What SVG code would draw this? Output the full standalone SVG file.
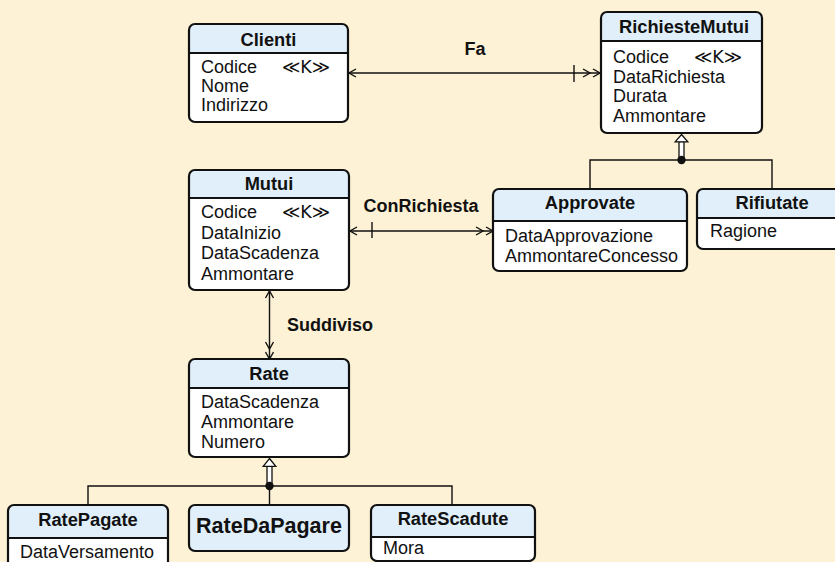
<svg xmlns="http://www.w3.org/2000/svg" width="835" height="562" viewBox="0 0 835 562">
  <style>
    text { font-family: "Liberation Sans", "DejaVu Sans", Arial, sans-serif; fill: #111; }
    .t { font-size: 18.3px; font-weight: bold; text-anchor: middle; }
    .big { font-size: 21.5px; font-weight: bold; text-anchor: middle; }
    .a { font-size: 18px; }
    .k { font-size: 17.5px; font-family: "DejaVu Sans", "Liberation Sans", sans-serif; }
    .lbl { font-size: 18px; font-weight: bold; }
    .body { fill: #ffffff; stroke: none; }
    .hdr { fill: #e0effa; stroke: none; }
    .edge { fill: none; stroke: #111; stroke-width: 2.2; }
    .div { stroke: #111; stroke-width: 2; }
    .ln { fill: none; stroke: #111; stroke-width: 1.4; }
    .dot { fill: #111; }
    .tri { fill: #fff; stroke: #111; stroke-width: 1.3; }
  </style>
  <defs>
    <marker id="one" markerUnits="userSpaceOnUse" markerWidth="12" markerHeight="12" refX="10" refY="6" orient="auto-start-reverse">
      <path d="M3,2 L10,6 L3,10" fill="none" stroke="#111" stroke-width="1.4"/>
    </marker>
    <marker id="many" markerUnits="userSpaceOnUse" markerWidth="22" markerHeight="12" refX="20" refY="6" orient="auto-start-reverse">
      <path d="M3,2 L10,6 L3,10 M13,2 L20,6 L13,10" fill="none" stroke="#111" stroke-width="1.4"/>
    </marker>
  </defs>

  <rect width="835" height="562" fill="#fdf2d5"/>

  <!-- connectors -->
  <g id="connectors">
    <!-- Fa -->
    <line class="ln" x1="349" y1="73" x2="600" y2="73" marker-start="url(#one)" marker-end="url(#many)"/>
    <line class="ln" x1="574" y1="65" x2="574" y2="82"/>
    <text class="lbl" x="475" y="55" text-anchor="middle">Fa</text>
    <!-- ConRichiesta -->
    <line class="ln" x1="350" y1="231" x2="493" y2="231" marker-start="url(#one)" marker-end="url(#many)"/>
    <line class="ln" x1="372" y1="222" x2="372" y2="238"/>
    <text class="lbl" x="421" y="212" text-anchor="middle">ConRichiesta</text>
    <!-- Suddiviso -->
    <line class="ln" x1="269.5" y1="291" x2="269.5" y2="359" marker-start="url(#one)" marker-end="url(#many)"/>
    <text class="lbl" x="287" y="331">Suddiviso</text>

    <!-- generalization of RichiesteMutui -->
    <rect class="tri" x="679" y="141.5" width="5" height="18"/>
    <path class="tri" d="M681.5,134.5 L687.8,141.8 L675.2,141.8 Z"/>
    <path class="ln" d="M590,189 V160 H772 V189"/>
    <circle class="dot" cx="681.5" cy="160" r="4.2"/>

    <!-- generalization of Rate -->
    <rect class="tri" x="267" y="466" width="5" height="19"/>
    <path class="tri" d="M269.5,458.5 L275.8,466.3 L263.2,466.3 Z"/>
    <path class="ln" d="M88,505 V486 H452 V505 M269.5,486 V505"/>
    <circle class="dot" cx="269.5" cy="486" r="4.2"/>
  </g>

  <!-- Clienti -->
  <g id="clienti">
    <rect class="body" x="189" y="24" width="159" height="98" rx="6"/>
    <path class="hdr" d="M189,53 V30 Q189,24 195,24 H342 Q348,24 348,30 V53 Z"/>
    <line class="div" x1="189" y1="53" x2="348" y2="53"/>
    <rect class="edge" x="189" y="24" width="159" height="98" rx="6"/>
    <text class="t" x="268.5" y="46">Clienti</text>
    <text class="a" x="201" y="73">Codice</text>
    <text class="k" x="282" y="73">≪K≫</text>
    <text class="a" x="201" y="92">Nome</text>
    <text class="a" x="201" y="111">Indirizzo</text>
  </g>

  <!-- RichiesteMutui -->
  <g id="richiestemutui">
    <rect class="body" x="601" y="12" width="161" height="121" rx="6"/>
    <path class="hdr" d="M601,41 V18 Q601,12 607,12 H756 Q762,12 762,18 V41 Z"/>
    <line class="div" x1="601" y1="41" x2="762" y2="41"/>
    <rect class="edge" x="601" y="12" width="161" height="121" rx="6"/>
    <text class="t" x="684" y="33">RichiesteMutui</text>
    <text class="a" x="613" y="63">Codice</text>
    <text class="k" x="694" y="63">≪K≫</text>
    <text class="a" x="613" y="83">DataRichiesta</text>
    <text class="a" x="613" y="102">Durata</text>
    <text class="a" x="613" y="122">Ammontare</text>
  </g>

  <!-- Mutui -->
  <g id="mutui">
    <rect class="body" x="189" y="170" width="160" height="120" rx="6"/>
    <path class="hdr" d="M189,198 V176 Q189,170 195,170 H343 Q349,170 349,176 V198 Z"/>
    <line class="div" x1="189" y1="198" x2="349" y2="198"/>
    <rect class="edge" x="189" y="170" width="160" height="120" rx="6"/>
    <text class="t" x="269" y="190">Mutui</text>
    <text class="a" x="201" y="218">Codice</text>
    <text class="k" x="282" y="218">≪K≫</text>
    <text class="a" x="201" y="239">DataInizio</text>
    <text class="a" x="201" y="259">DataScadenza</text>
    <text class="a" x="201" y="280">Ammontare</text>
  </g>

  <!-- Approvate -->
  <g id="approvate">
    <rect class="body" x="493" y="189" width="194" height="82" rx="6"/>
    <path class="hdr" d="M493,221 V195 Q493,189 499,189 H681 Q687,189 687,195 V221 Z"/>
    <line class="div" x1="493" y1="221" x2="687" y2="221"/>
    <rect class="edge" x="493" y="189" width="194" height="82" rx="6"/>
    <text class="t" x="590" y="209">Approvate</text>
    <text class="a" x="505" y="242">DataApprovazione</text>
    <text class="a" x="505" y="262">AmmontareConcesso</text>
  </g>

  <!-- Rifiutate -->
  <g id="rifiutate">
    <rect class="body" x="697" y="189" width="150" height="60" rx="6"/>
    <path class="hdr" d="M697,218 V195 Q697,189 703,189 H841 Q847,189 847,195 V218 Z"/>
    <line class="div" x1="697" y1="218" x2="847" y2="218"/>
    <rect class="edge" x="697" y="189" width="150" height="60" rx="6"/>
    <text class="t" x="772" y="209">Rifiutate</text>
    <text class="a" x="710" y="237">Ragione</text>
  </g>

  <!-- Rate -->
  <g id="rate">
    <rect class="body" x="189" y="359" width="160" height="98" rx="6"/>
    <path class="hdr" d="M189,388 V365 Q189,359 195,359 H343 Q349,359 349,365 V388 Z"/>
    <line class="div" x1="189" y1="388" x2="349" y2="388"/>
    <rect class="edge" x="189" y="359" width="160" height="98" rx="6"/>
    <text class="t" x="269" y="380">Rate</text>
    <text class="a" x="201" y="408">DataScadenza</text>
    <text class="a" x="201" y="428">Ammontare</text>
    <text class="a" x="201" y="448">Numero</text>
  </g>

  <!-- RatePagate -->
  <g id="ratepagate">
    <rect class="body" x="8" y="505" width="160" height="66" rx="6"/>
    <path class="hdr" d="M8,538 V511 Q8,505 14,505 H162 Q168,505 168,511 V538 Z"/>
    <line class="div" x1="8" y1="538" x2="168" y2="538"/>
    <rect class="edge" x="8" y="505" width="160" height="66" rx="6"/>
    <text class="t" x="88" y="526">RatePagate</text>
    <text class="a" x="20" y="558">DataVersamento</text>
  </g>

  <!-- RateDaPagare -->
  <g id="ratedapagare">
    <rect class="hdr" x="189" y="505" width="160" height="46" rx="6"/>
    <rect class="edge" x="189" y="505" width="160" height="46" rx="6"/>
    <text class="big" x="269" y="533">RateDaPagare</text>
  </g>

  <!-- RateScadute -->
  <g id="ratescadute">
    <rect class="body" x="371" y="505" width="164" height="56" rx="6"/>
    <path class="hdr" d="M371,537 V511 Q371,505 377,505 H529 Q535,505 535,511 V537 Z"/>
    <line class="div" x1="371" y1="537" x2="535" y2="537"/>
    <rect class="edge" x="371" y="505" width="164" height="56" rx="6"/>
    <text class="t" x="453" y="525">RateScadute</text>
    <text class="a" x="383" y="554">Mora</text>
  </g>
</svg>
